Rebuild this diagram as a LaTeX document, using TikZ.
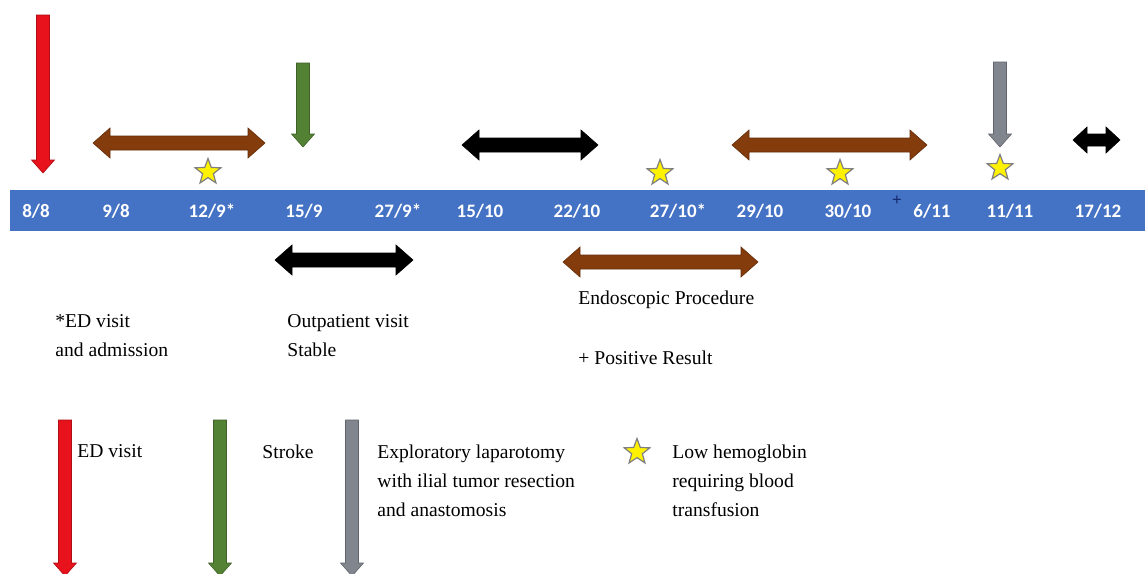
\documentclass[tikz,border=0pt]{standalone}
\usepackage{fontspec}
\setmainfont{Liberation Serif}
\newfontfamily\datefont{Carlito}
\usepackage{xcolor}
\definecolor{barblue}{RGB}{68, 114, 196}
\definecolor{evred}{RGB}{232, 18, 28}
\definecolor{evgreen}{RGB}{84, 130, 53}
\definecolor{evgray}{RGB}{128, 133, 142}
\definecolor{spanbrown}{RGB}{132, 60, 12}
\definecolor{plusblue}{RGB}{20, 40, 110}
\usepackage{tikz}
\usetikzlibrary{shapes.geometric, arrows.meta, positioning}
\newcommand{\evdown}[4]{\filldraw[fill=#4, draw=#4!75!black, line width=0.3pt]
  (#1-6.5,#2) -- (#1+6.5,#2) -- (#1+6.5,#3-13) -- (#1+11.5,#3-13) -- (#1,#3)
  -- (#1-11.5,#3-13) -- (#1-6.5,#3-13) -- cycle;}
\newcommand{\spanboth}[4]{\filldraw[fill=#4, draw=#4!75!black, line width=0.3pt]
  (#1,#3) -- (#1+17,#3-15) -- (#1+17,#3-7) -- (#2-17,#3-7) -- (#2-17,#3-15)
  -- (#2,#3) -- (#2-17,#3+15) -- (#2-17,#3+7) -- (#1+17,#3+7) -- (#1+17,#3+15) -- cycle;}

\begin{document}
\begin{tikzpicture}[x=0.5pt, y=-0.5pt,
    datelbl/.style={text=white, inner sep=0pt, font=\datefont\bfseries\fontsize{9.5}{11}\selectfont},
    hbstar/.style={star, star points=5, star point ratio=2.4, minimum size=13.5pt, inner sep=0pt,
      fill=yellow, draw=gray, line width=0.6pt},
    notetxt/.style={anchor=north west, align=left, inner sep=0pt, font=\fontsize{9.8}{14.5}\selectfont}]
  \clip (0,0) rectangle (1145,573);
  \fill[white] (0,0) rectangle (1145,573);
  \fill[barblue] (10,190) rectangle (1145,231);
  \foreach \px/\txt/\nm in {36/{8/8}/d88, 116/{9/8}/d98, 212/{12/9*}/d129, 304/{15/9}/d159,
      398/{27/9*}/d279, 480/{15/10}/d1510, 577/{22/10}/d2210, 678/{27/10*}/d2710,
      760/{29/10}/d2910, 848/{30/10}/d3010, 932/{6/11}/d611, 1010/{11/11}/d1111, 1098/{17/12}/d1712}
    \node[datelbl] (\nm) at (\px,211) {\txt};
  \node[text=plusblue, inner sep=0pt, font=\bfseries\fontsize{8.5}{9}\selectfont] (posmark) at (897,201) {+};

  \evdown{43}{15}{173}{evred}
  \evdown{303}{63}{147}{evgreen}
  \evdown{1000}{62}{147}{evgray}

  \spanboth{93}{265}{143}{spanbrown}
  \spanboth{462}{598}{145}{black}
  \spanboth{732}{927}{145}{spanbrown}
  \filldraw[fill=black, draw=black, line width=0.3pt]
    (1073,140) -- (1087,127) -- (1087,134) -- (1106,134) -- (1106,127) -- (1120,140)
    -- (1106,153) -- (1106,146) -- (1087,146) -- (1087,153) -- cycle;
  \spanboth{275}{413}{260}{black}
  \spanboth{563}{758}{262}{spanbrown}

  \node[hbstar] (hb1) at (208,172) {};
  \node[hbstar] (hb2) at (660,173) {};
  \node[hbstar] (hb3) at (840,173) {};
  \node[hbstar] (hb4) at (1000,168) {};

  \node[notetxt] (ednote) at (55,314.5) {*ED visit\\and admission};
  \node[notetxt] (outnote) at (287,314.5) {Outpatient visit\\Stable};
  \node[notetxt] (endonote) at (578,290.5) {Endoscopic Procedure};
  \node[notetxt] (posnote) at (578,350.5) {+ Positive Result};

  \evdown{65}{420}{576}{evred}
  \evdown{220}{420}{576}{evgreen}
  \evdown{352}{420}{576}{evgray}
  \node[notetxt] (keyed) at (77,444.5) {ED visit};
  \node[notetxt] (keystroke) at (262,444.5) {Stroke};
  \node[notetxt] (keylap) at (377,444.5) {Exploratory laparotomy\\with ilial tumor resection\\and anastomosis};
  \node[hbstar] (hbkey) at (637,452) {};
  \node[notetxt] (keyhb) at (672,444.5) {Low hemoglobin\\requiring blood\\transfusion};
\end{tikzpicture}
\end{document}
